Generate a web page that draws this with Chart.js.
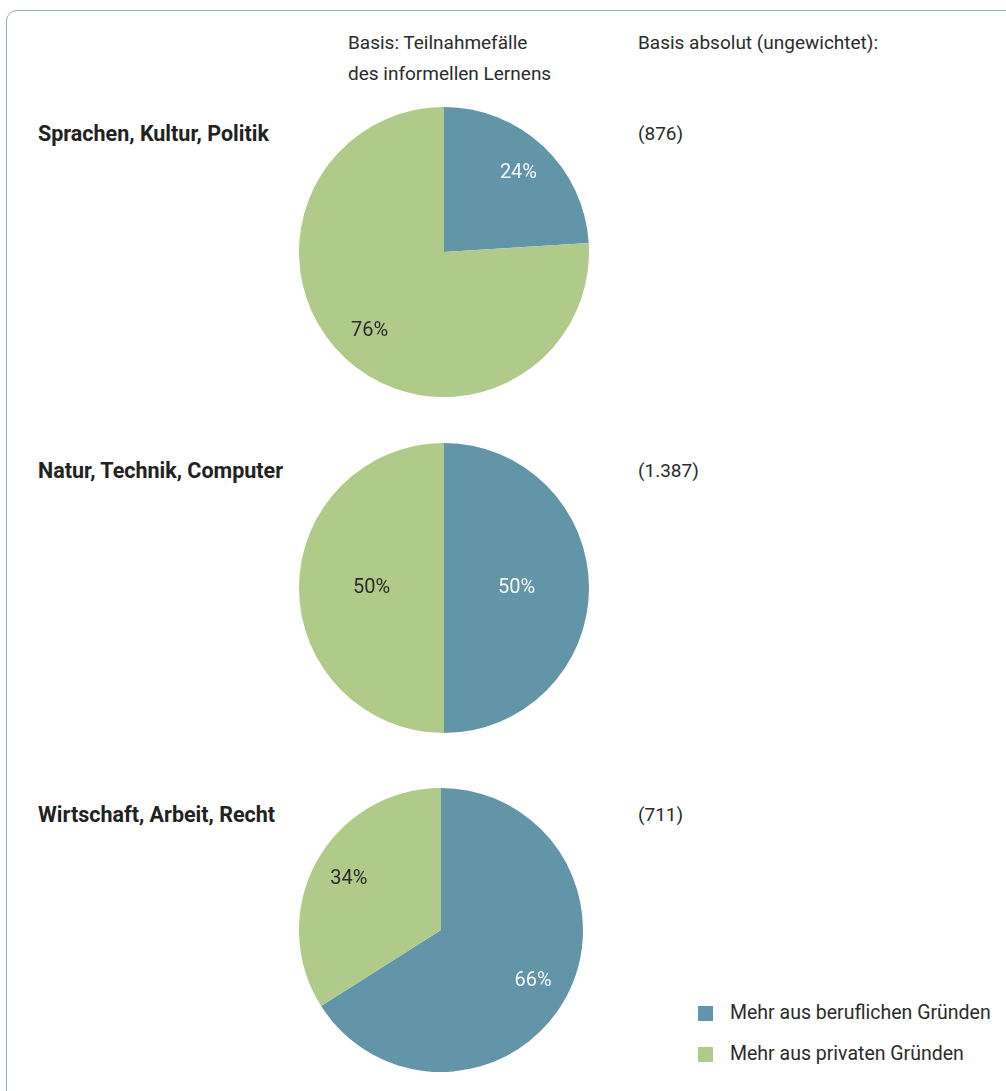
<!DOCTYPE html>
<html lang="de">
<head>
<meta charset="utf-8">
<script src="https://cdn.jsdelivr.net/npm/chart.js@4"></script>
<style>
  body { margin: 0; background: #fff; font-family: Roboto, "Open Sans", sans-serif; color: #2b2b2b; }
  .page { position: relative; width: 1006px; height: 1091px; overflow: hidden; }
  .frame { position: absolute; left: 6px; top: 10px; width: 1200px; height: 1300px;
           border: 1.5px solid #98afbb; border-radius: 11px; }
  .txt { position: absolute; font-size: 19px; line-height: 31px; white-space: nowrap; }
  .cat { position: absolute; font-size: 21.5px; font-weight: bold; white-space: nowrap; color: #222; }
  .pie { position: absolute; }
  .legend { position: absolute; left: 698px; top: 1002px; font-size: 19.5px; }
  .legend div { height: 41px; line-height: 22px; display: flex; align-items: flex-start; }
  .legend span.box { display: inline-block; width: 15px; height: 15px; margin-top: 4px; margin-right: 17px; }
</style>
</head>
<body>
<div class="page" id="page">
  <div class="frame"></div>
  <div class="txt" style="left:348px; top:27px;">Basis: Teilnahmefälle<br>des informellen Lernens</div>
  <div class="txt" style="left:638px; top:27px;">Basis absolut (ungewichtet):</div>
  <div class="legend" id="legend"></div>
</div>
<script>
const categories = ['Sprachen, Kultur, Politik', 'Natur, Technik, Computer', 'Wirtschaft, Arbeit, Recht'];
const seriesNames = ['Mehr aus beruflichen Gründen', 'Mehr aus privaten Gründen'];
const beruflich = [24, 50, 66];
const privat = [76, 50, 34];
const basisAbsolut = ['(876)', '(1.387)', '(711)'];

const colors = ['#6395a9', '#b0ca8a'];
const labelColors = ['#f4f7f8', '#2b2b2b'];

// layout of each row: pie box, heading line, label distance from centre
const rows = [
  { top: 107, left: 299, size: 290, headTop: 121, labelRadius: 0.75 },
  { top: 443, left: 299, size: 290, headTop: 458, labelRadius: 0.5 },
  { top: 788, left: 299, size: 284, headTop: 802, labelRadius: 0.74 },
];

// draws the percentage inside each slice
const sliceLabels = {
  id: 'sliceLabels',
  afterDatasetsDraw(chart, args, opts) {
    const c = chart.ctx;
    const meta = chart.getDatasetMeta(0);
    c.save();
    c.font = '20px Roboto, "Open Sans", sans-serif';
    c.textAlign = 'center';
    c.textBaseline = 'middle';
    meta.data.forEach((arc, i) => {
      const p = arc.getProps(['x', 'y', 'startAngle', 'endAngle', 'outerRadius']);
      const mid = (p.startAngle + p.endAngle) / 2;
      const r = p.outerRadius * opts.radius;
      c.fillStyle = labelColors[i];
      c.fillText(chart.data.datasets[0].data[i] + '%', p.x + Math.cos(mid) * r, p.y + Math.sin(mid) * r);
    });
    c.restore();
  }
};

const page = document.getElementById('page');

categories.forEach((cat, i) => {
  const row = rows[i];

  const head = document.createElement('div');
  head.className = 'cat';
  head.style.left = '38px';
  head.style.top = row.headTop + 'px';
  head.textContent = cat;
  page.appendChild(head);

  const basis = document.createElement('div');
  basis.className = 'txt';
  basis.style.left = '638px';
  basis.style.top = (row.headTop - 3) + 'px';
  basis.textContent = basisAbsolut[i];
  page.appendChild(basis);

  const canvas = document.createElement('canvas');
  canvas.className = 'pie';
  canvas.width = row.size;
  canvas.height = row.size;
  canvas.style.left = row.left + 'px';
  canvas.style.top = row.top + 'px';
  page.appendChild(canvas);

  new Chart(canvas.getContext('2d'), {
    type: 'pie',
    data: {
      labels: seriesNames,
      datasets: [{
        data: [beruflich[i], privat[i]],
        backgroundColor: colors,
        borderWidth: 0,
      }],
    },
    options: {
      responsive: false,
      animation: false,
      layout: { padding: 0 },
      plugins: {
        legend: { display: false },
        tooltip: { enabled: false },
        sliceLabels: { radius: row.labelRadius },
      },
    },
    plugins: [sliceLabels],
  });
});

const legend = document.getElementById('legend');
seriesNames.forEach((name, i) => {
  const item = document.createElement('div');
  item.innerHTML = '<span class="box" style="background:' + colors[i] + '"></span><span>' + name + '</span>';
  legend.appendChild(item);
});
</script>
</body>
</html>
